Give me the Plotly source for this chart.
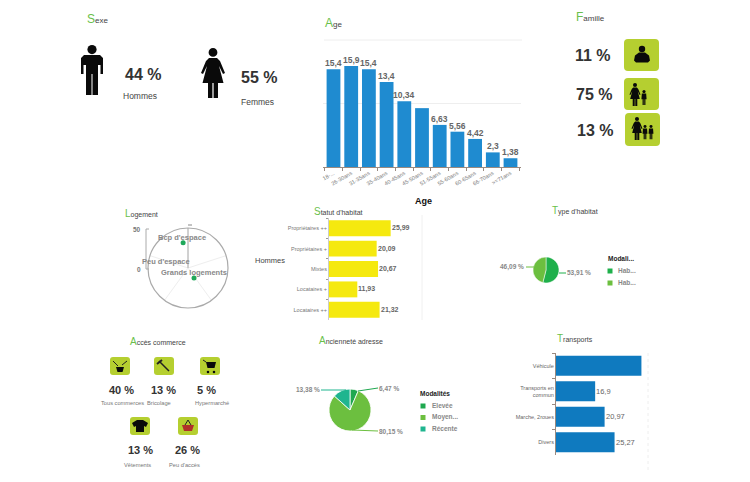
# -*- coding: utf-8 -*-
"""Tableau de bord : profil de clientèle"""

import plotly.graph_objects as go

# Age
age_categories = ["18-...", "26-30ans", "31-35ans", "35-40ans", "40-45ans", "45-50ans",
                  "51-55ans", "55-60ans", "60-65ans", "66-70ans", ">=71ans"]
age_values = [15.4, 15.9, 15.4, 13.4, 10.34, 9.27, 6.63, 5.56, 4.42, 2.3, 1.38]
age_labels = ["15,4", "15,9", "15,4", "13,4", "10,34", "", "6,63", "5,56", "4,42", "2,3", "1,38"]

# Statut d'habitat
statut_categories = ["Propriétaires ++", "Propriétaires +", "Mixtes", "Locataires +", "Locataires ++"]
statut_values = [25.99, 20.09, 20.67, 11.93, 21.32]
statut_labels = ["25,99", "20,09", "20,67", "11,93", "21,32"]

# Transports
transports_categories = ["Véhicule", "Transports en<br>commun", "Marche, 2roues", "Divers"]
transports_values = [36.86, 16.9, 20.97, 25.27]
transports_labels = ["", "16,9", "20,97", "25,27"]

# Camemberts
habitat_values = [53.91, 46.09]
habitat_labels = ["53,91 %", "46,09 %"]
habitat_colors = ["#1fb04b", "#6cbf3f"]
anciennete_names = ["Elevée", "Moyen...", "Récente"]
anciennete_values = [6.47, 80.15, 13.38]
anciennete_labels = ["6,47 %", "80,15 %", "13,38 %"]
anciennete_colors = ["#1fa84f", "#6cbf3f", "#1fb58f"]

# Logement (radar)
logement_r = [32, 14.6]
logement_theta = [349, 149]
logement_spokes = [0, 72, 144, 216, 288]

# Chiffres clés
sexe_pct = ["44 %", "55 %"]
sexe_names = ["Hommes", "Femmes"]
famille_pct = ["11 %", "75 %", "13 %"]
commerce_pct = ["40 %", "13 %", "5 %", "13 %", "26 %"]
commerce_names = ["Tous commerces", "Bricolage", "Hypermarché", "Vêtements", "Peu d'accès"]

W, H = 750, 482
FONT = "Liberation Sans, Arial, sans-serif"
GREEN = "#6abf4b"
LIME = "#b5cf30"
DARK = "#333333"
GREY = "#666666"

fig = go.Figure()


def dom_x(a, b):
    return [a / W, b / W]


def dom_y(top, bottom):
    return [1 - bottom / H, 1 - top / H]


def text(x, y, s, size=8, color=GREY, bold=False, anchor="center"):
    fig.add_annotation(
        x=x, y=y, xref="x9", yref="y9", text=f"<b>{s}</b>" if bold else s,
        showarrow=False, xanchor=anchor, yanchor="middle",
        font=dict(size=size, color=color, family=FONT)
    )


def title(x, y, s, first=12, rest=8):
    text(x - 2, y, f'<span style="color:{GREEN};font-size:{first}px">{s[0]}</span>{s[1:]}',
         size=rest, color="#444444", anchor="left")


def bar_labels_h(values, categories, labels, xref, yref, size, bold):
    # étiquettes collées au bout des barres horizontales
    for v, c, s in zip(values, categories, labels):
        if s:
            fig.add_annotation(
                x=v, y=c, xref=xref, yref=yref, text=f"<b>{s}</b>" if bold else s,
                showarrow=False, xanchor="left", yanchor="middle", xshift=-1,
                font=dict(size=size, color="#666666", family=FONT)
            )


def poly(points, ox, oy, s=1.0, color="#0a0a0a"):
    d = "M" + " L".join(f"{ox + px * s:.2f},{oy + py * s:.2f}" for px, py in points) + " Z"
    fig.add_shape(type="path", path=d, xref="x9", yref="y9", fillcolor=color, line_width=0)


def circle(cx, cy, r, color="#0a0a0a"):
    fig.add_shape(type="circle", x0=cx - r, x1=cx + r, y0=cy - r, y1=cy + r,
                  xref="x9", yref="y9", fillcolor=color, line_width=0)


def seg(x0, y0, x1, y1, color="#aaaaaa", width=1):
    fig.add_shape(type="line", x0=x0, y0=y0, x1=x1, y1=y1, xref="x9", yref="y9",
                  line=dict(color=color, width=width))


def tile(x0, y0, x1, y1, r=4):
    d = (f"M{x0 + r},{y0} L{x1 - r},{y0} Q{x1},{y0} {x1},{y0 + r} L{x1},{y1 - r} "
         f"Q{x1},{y1} {x1 - r},{y1} L{x0 + r},{y1} Q{x0},{y1} {x0},{y1 - r} "
         f"L{x0},{y0 + r} Q{x0},{y0} {x0 + r},{y0} Z")
    fig.add_shape(type="path", path=d, xref="x9", yref="y9", fillcolor=LIME, line_width=0)


def man(cx, top, s=1.0):
    circle(cx, top + 4.6 * s, 4.6 * s)
    poly([(-8, 10), (8, 10), (11, 13), (11, 29), (8.5, 29), (8.5, 20), (6, 20), (6, 50),
          (-6, 50), (-6, 20), (-8.5, 20), (-8.5, 29), (-11, 29), (-11, 13)], cx, top, s)
    seg(cx, top + 29 * s, cx, top + 50 * s, "#ffffff", 1)


def woman(cx, top, s=1.0):
    circle(cx, top + 4.4 * s, 4.4 * s)
    poly([(-4, 10), (4, 10), (7, 13), (12, 25), (10, 26), (6, 18), (10.5, 35), (5, 35), (5, 50),
          (0.6, 50), (0.6, 35), (-0.6, 35), (-0.6, 50), (-5, 50), (-5, 35), (-10.5, 35), (-6, 18),
          (-10, 26), (-12, 25), (-7, 13)], cx, top, s)


def child(cx, top, s=1.0):
    circle(cx, top + 2.2 * s, 2.2 * s)
    poly([(-3, 5), (3, 5), (3.6, 13), (2, 13), (2, 21), (0.3, 21), (0.3, 13), (-0.3, 13),
          (-0.3, 21), (-2, 21), (-2, 13), (-3.6, 13)], cx, top, s)


# Axe invisible en pixels pour les textes et les icônes
fig.add_trace(go.Scatter(x=[], y=[], xaxis="x9", yaxis="y9", showlegend=False, hoverinfo="skip"))

# Histogramme Age
fig.add_trace(go.Bar(
    x=age_categories, y=age_values,
    marker=dict(color="#1f8bd0", line_width=0), xaxis="x", yaxis="y", showlegend=False
))
for cat, val, lab in zip(age_categories, age_values, age_labels):
    if lab:
        fig.add_annotation(
            x=cat, y=val, xref="x", yref="y", text=f"<b>{lab}</b>", showarrow=False,
            xanchor="center", yanchor="bottom", yshift=-1,
            font=dict(size=8.5, color="#666666", family=FONT)
        )

# Barres Statut d'habitat
fig.add_trace(go.Bar(
    x=statut_values, y=statut_categories, orientation="h",
    marker=dict(color="#f5e90f", line_width=0), xaxis="x2", yaxis="y2", showlegend=False
))
bar_labels_h(statut_values, statut_categories, statut_labels, "x2", "y2", 7, True)

# Barres Transports
fig.add_trace(go.Bar(
    x=transports_values, y=transports_categories, orientation="h",
    marker=dict(color="#0f7abf", line_width=0), xaxis="x3", yaxis="y3", showlegend=False
))
bar_labels_h(transports_values, transports_categories, transports_labels, "x3", "y3", 7.5, False)

# Camemberts
fig.add_trace(go.Pie(
    values=habitat_values, sort=False, direction="clockwise", rotation=0,
    marker=dict(colors=habitat_colors, line=dict(color="#ffffff", width=0.5)),
    textinfo="none", showlegend=False,
    domain=dict(x=dom_x(533, 559), y=dom_y(257, 283))
))
fig.add_trace(go.Pie(
    values=anciennete_values, sort=False, direction="clockwise", rotation=0,
    marker=dict(colors=anciennete_colors, line=dict(color="#ffffff", width=0.8)),
    textinfo="none", showlegend=False,
    domain=dict(x=dom_x(329, 371), y=dom_y(389, 431))
))

# Radar Logement
fig.add_trace(go.Scatterpolar(
    r=logement_r, theta=logement_theta, mode="markers",
    marker=dict(size=5, color="#1fa85a"), showlegend=False
))

tick_small = dict(size=5.5, color="#777777", family=FONT)
AXIS_COLOR = "#9a8a80"

fig.update_layout(
    width=W, height=H, margin=dict(l=0, r=0, t=0, b=0), autosize=False,
    paper_bgcolor="white", plot_bgcolor="rgba(0,0,0,0)",
    font=dict(family=FONT), bargap=0.22,
    xaxis=dict(domain=dom_x(323, 521), anchor="y", tickangle=-30, tickfont=tick_small,
               ticks="outside", ticklen=3, tickcolor=AXIS_COLOR, tickson="boundaries",
               showline=True, linecolor=AXIS_COLOR, showgrid=False, zeroline=False),
    yaxis=dict(domain=dom_y(40, 167), anchor="x", range=[0, 20], tickvals=[0, 10, 20],
               showticklabels=False, gridcolor="#eeeeee", zeroline=False, showline=False),
    xaxis2=dict(domain=dom_x(329, 422), anchor="y2", range=[0, 39.2], showticklabels=False,
                showgrid=False, zeroline=False, showline=False),
    yaxis2=dict(domain=dom_y(218, 320), anchor="x2", autorange="reversed", tickfont=tick_small,
                ticks="outside", ticklen=2, tickcolor="#999999", tickson="boundaries",
                showline=True, linecolor="#cccccc", showgrid=False, zeroline=False),
    xaxis3=dict(domain=dom_x(556, 648), anchor="y3", range=[0, 39.7], showticklabels=False,
                showgrid=False, zeroline=False, showline=False),
    yaxis3=dict(domain=dom_y(353, 455), anchor="x3", autorange="reversed",
                tickfont=dict(size=5.5, color="#666666", family=FONT),
                ticks="outside", ticklen=3, tickcolor=AXIS_COLOR, tickson="boundaries",
                showline=True, linecolor=AXIS_COLOR, showgrid=False, zeroline=False),
    xaxis9=dict(domain=[0, 1], range=[0, W], visible=False, fixedrange=True, anchor="y9"),
    yaxis9=dict(domain=[0, 1], range=[H, 0], visible=False, fixedrange=True, anchor="x9"),
    polar=dict(
        domain=dict(x=dom_x(148, 228), y=dom_y(228, 308)),
        bgcolor="rgba(0,0,0,0)",
        radialaxis=dict(range=[0, 50], angle=90, showgrid=False, showticklabels=False, ticks="",
                        showline=True, linecolor="#aaaaaa"),
        angularaxis=dict(direction="clockwise", rotation=90, tickvals=logement_spokes,
                         showticklabels=False, ticks="", gridcolor="#eeeeee",
                         showline=True, linecolor="#aaaaaa", linewidth=1.2)
    )
)

# Titres
title(87, 19, "Sexe")
title(325, 23, "Age")
title(576, 17, "Famille")
title(125, 213, "Logement", 10, 7)
title(314, 211, "Statut d'habitat", 10, 7)
title(552, 210, "Type d'habitat", 10, 7)
title(130, 341, "Accès commerce", 10, 7)
title(319, 340, "Ancienneté adresse", 10, 7)
title(557, 338, "Transports", 10, 7)

# Sexe
man(92, 45)
woman(213, 48)
text(143, 74, sexe_pct[0], 16, DARK, True)
text(259, 77, sexe_pct[1], 16, DARK, True)
text(140, 96, sexe_names[0], 8.5, "#444444")
text(257, 102, sexe_names[1], 8.5, "#444444")

# Famille
tile(624, 39, 659, 71)
tile(624, 78, 659, 110)
tile(625, 113, 660, 146)
circle(642, 49, 3.2)
poly([(-7, 3), (-3, 0), (3, 0), (7, 3), (8, 8), (6, 10), (-6, 10), (-8, 8)], 642, 52.5)
woman(635, 83, 0.46)
child(644, 90, 0.72)
woman(637, 117, 0.46)
child(645, 125, 0.68)
child(651, 125, 0.68)
text(593, 55, famille_pct[0], 16, DARK, True)
text(594, 94, famille_pct[1], 16, DARK, True)
text(595, 130, famille_pct[2], 16, DARK, True)

# Age : titre d'axe et ligne haute
text(423, 201, "Age", 9, "#111111", True)
seg(324, 40, 522, 40, "#eeeeee")

# Logement
seg(146, 229, 146, 269)
seg(146, 229, 149, 229)
seg(146, 269, 149, 269)
seg(188, 225, 192, 225, "#888888")
text(137, 229, "50", 6.5, "#777777", True)
text(139, 269, "0", 6.5, "#777777", True)
text(182, 237, "Bcp d'espace", 7.5, "#888888", True)
text(166, 261, "Peu d'espace", 7.5, "#888888", True)
text(194, 272, "Grands logements", 7.5, "#888888", True)

# Statut d'habitat
text(270, 260, "Hommes", 7.5, "#444444")
seg(422, 215, 422, 320, "#f0f0f0")

# Type d'habitat
text(579, 273, habitat_labels[0], 6.5, "#888888", True)
text(512, 267, habitat_labels[1], 6.5, "#888888", True)
seg(559, 273, 566, 273, habitat_colors[0])
seg(526, 267, 534, 267, habitat_colors[1])
text(606, 258, "Modali...", 6.5, "#222222", True, "left")
for i, color in enumerate(habitat_colors):
    y = 271 + i * 12
    fig.add_shape(type="rect", x0=607.5, x1=612.5, y0=y - 2.5, y1=y + 2.5, xref="x9", yref="y9",
                  fillcolor=color, line_width=0)
    text(616, y - 0.5, "Hab...", 6.5, "#888888", True, "left")

# Ancienneté
text(389, 389, anciennete_labels[0], 6.5, "#888888", True)
text(391, 432, anciennete_labels[1], 6.5, "#888888", True)
text(308, 390, anciennete_labels[2], 6.5, "#888888", True)
seg(358, 391, 378, 388, anciennete_colors[0])
seg(352, 430, 378, 431, anciennete_colors[1])
seg(321, 390, 346, 390, anciennete_colors[2])
text(418, 393, "Modalités", 6.5, "#222222", True, "left")
for i, color in enumerate(anciennete_colors):
    y = 406 + i * 11.5
    fig.add_shape(type="rect", x0=420.5, x1=425.5, y0=y - 2.5, y1=y + 2.5, xref="x9", yref="y9",
                  fillcolor=color, line_width=0)
    text(430, y - 0.5, anciennete_names[i], 6.5, "#888888", True, "left")

# Accès commerce
tiles = [(120, 366), (164, 366), (210, 366), (140, 426), (188, 426)]
for cx, cy in tiles:
    tile(cx - 10, cy - 9, cx + 10, cy + 9, 3)
text(121, 390, commerce_pct[0], 11, DARK, True)
text(163, 390, commerce_pct[1], 11, DARK, True)
text(206, 390, commerce_pct[2], 11, DARK, True)
text(140, 450, commerce_pct[3], 11, DARK, True)
text(187, 450, commerce_pct[4], 11, DARK, True)
text(122, 403, commerce_names[0], 5.7, "#777777")
text(159, 403, commerce_names[1], 5.7, "#777777")
text(212, 403, commerce_names[2], 5.7, "#777777")
text(137, 465, commerce_names[3], 5.7, "#777777")
text(184, 465, commerce_names[4], 5.7, "#777777")
# Tous commerces
poly([(-4, 0), (4, 0), (2.5, 5), (-2.5, 5)], 120, 367)
seg(113, 361, 118, 366, "#222222")
seg(127, 361, 122, 365, "#222222")
# Bricolage
seg(159, 361, 169, 371, "#222222", 1.5)
seg(157, 364, 162, 360, "#222222", 2)
# Hypermarché
poly([(-4, -4), (6, -4), (4.5, 2), (-2.5, 2)], 210, 366)
seg(203, 360, 206, 362, "#222222")
circle(208, 372, 1.3)
circle(214, 372, 1.3)
# Vêtements
poly([(-3, -6), (3, -6), (8, -3), (6, 1), (4, 0), (4, 6), (-4, 6), (-4, 0), (-6, 1), (-8, -3)], 140, 426)
# Peu d'accès
poly([(-6, -1), (6, -1), (4, 5), (-4, 5)], 188, 426, color="#b0302a")
seg(185, 425, 188, 420, "#222222")
seg(191, 425, 188, 420, "#222222")

# Repère droit Transports
fig.add_shape(type="line", x0=648, x1=648, y0=353, y1=470, xref="x9", yref="y9",
              line=dict(color="#eeeeee", width=1, dash="dot"))

fig.write_html("out.html", config={"displayModeBar": False},
               post_script="document.body.style.margin='0';")
